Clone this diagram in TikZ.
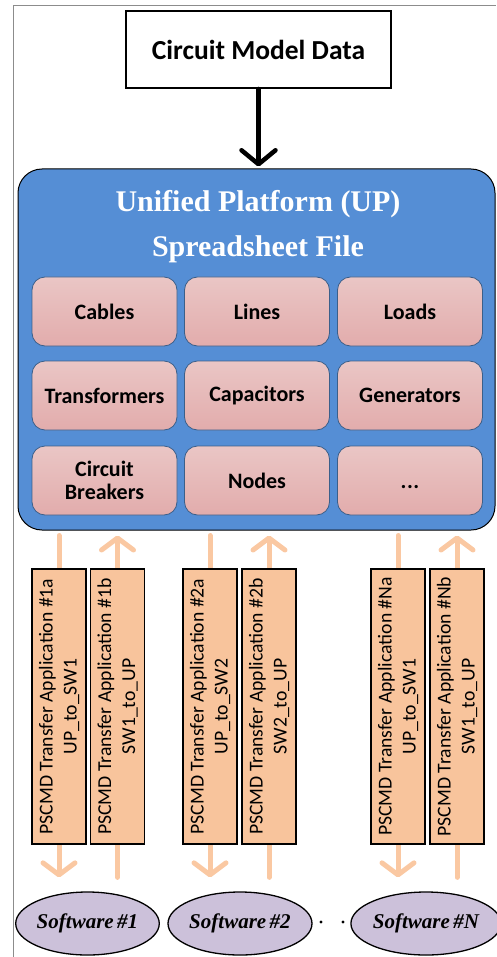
\documentclass[tikz,border=0pt]{standalone}
\usepackage{fontspec}
\setmainfont{Carlito}
\newfontfamily\timesf{Liberation Serif}
\usetikzlibrary{arrows.meta,backgrounds,shapes.geometric}
\definecolor{upblue}{HTML}{558ED5}
\definecolor{pinktop}{HTML}{EAC6C5}
\definecolor{pinkbot}{HTML}{E2ACAC}
\definecolor{cellborder}{HTML}{3B5F8A}
\definecolor{appfill}{HTML}{F8C49C}
\definecolor{arrorange}{HTML}{FAC8A2}
\definecolor{swfill}{HTML}{CCC1DA}
\definecolor{framegray}{HTML}{8C8C8C}
\begin{document}
\begin{tikzpicture}[x=1pt,y=-1pt,
  cell/.style={draw=cellborder, line width=0.8pt, rounded corners=13pt,
    top color=pinktop, bottom color=pinkbot, minimum width=145pt,
    minimum height=69pt, font=\fontsize{22}{23}\selectfont\bfseries,
    align=center, inner sep=0pt},
  app/.style={draw=black, line width=1.6pt, fill=appfill,
    minimum width=275pt, minimum height=54pt, rotate=90,
    font=\fontsize{19.7}{24}\selectfont, align=center, inner sep=0pt},
  sw/.style={ellipse, draw=black, line width=1.3pt, fill=swfill,
    minimum height=63pt, inner sep=0pt,
    font=\timesf\fontsize{21}{24}\selectfont\bfseries\itshape},
  toflow/.style={draw=arrorange, line width=5pt, line cap=round,
    -{Straight Barb[length=12pt,width=32pt,round]},
    shorten <=5pt, shorten >=14pt},
  fromflow/.style={draw=arrorange, line width=5pt, line cap=round,
    {Straight Barb[length=12pt,width=32pt,round]}-,
    shorten <=5pt, shorten >=14pt},
  titletext/.style={text=white, font=\timesf\fontsize{30}{34}\selectfont\bfseries, anchor=base}
]
\useasboundingbox (0,0) rectangle (496,957);
\draw[framegray, line width=1pt] (13,957) -- (13,6) -- (496,6);

% top data box
\node[draw=black, line width=2pt, fill=white, minimum width=265pt,
  minimum height=77pt, font=\fontsize{27.5}{30}\selectfont\bfseries]
  (cmd) at (258.5,49.5) {Circuit Model Data};

% unified platform
\node[draw=black, line width=1pt, fill=upblue, rounded corners=24pt,
  minimum width=477pt, minimum height=361pt] (up) at (256.5,349.5) {};
\draw[black, line width=4.5pt, line cap=round,
  -{Straight Barb[length=14pt,width=34pt,round]}, shorten >=2pt]
  (cmd.south) -- (cmd.south |- up.north);
\node[titletext] (t1) at (258,212) {Unified Platform (UP)};
\node[titletext] (t2) at (258,257) {Spreadsheet File};

\node[cell] (c11) at (104.5,311.5) {Cables};
\node[cell] (c12) at (257,311.5) {Lines};
\node[cell] (c13) at (410,311.5) {Loads};
\node[cell] (c21) at (104.5,395.5) {Transformers};
\node[cell] (c22) at (257,395.5) {Capacitors};
\node[cell] (c23) at (410,395.5) {Generators};
\node[cell] (c31) at (104.5,480.5) {Circuit\\Breakers};
\node[cell] (c32) at (257,480.5) {Nodes};
\node[cell] (c33) at (410,480.5) {\vphantom{Nodes}{.}\kern0.5pt{.}\kern0.5pt{.}};

% software
\node[sw, minimum width=141pt] (sw1) at (87.5,923.5) {Software\,\#1};
\node[sw, minimum width=144pt] (sw2) at (240,923.5) {Software\,\#2};
\node[sw, minimum width=138pt] (swn) at (426,923.5) {Software\,\#N};
\fill (321,922) circle (1.7pt);
\fill (343,922) circle (1.7pt);

% transfer applications
\node[app] (a1a) at (59,706.5) {PSCMD Transfer Application \#1a\\UP\_to\_SW1};
\node[app] (a1b) at (117.5,706.5) {PSCMD Transfer Application \#1b\\SW1\_to\_UP};
\node[app] (a2a) at (210,706.5) {PSCMD Transfer Application \#2a\\UP\_to\_SW2};
\node[app] (a2b) at (269,706.5) {PSCMD Transfer Application \#2b\\SW2\_to\_UP};
\node[app] (ana) at (398,706.5) {PSCMD Transfer Application \#Na\\UP\_to\_SW1};
\node[app] (anb) at (457,706.5) {PSCMD Transfer Application \#Nb\\SW1\_to\_UP};

\begin{scope}[on background layer]
  \draw[toflow] (a1a.center |- up.south) -- (a1a.center |- sw1.north);
  \draw[fromflow] (a1b.center |- up.south) -- (a1b.center |- sw1.north);
  \draw[toflow] (a2a.center |- up.south) -- (a2a.center |- sw2.north);
  \draw[fromflow] (a2b.center |- up.south) -- (a2b.center |- sw2.north);
  \draw[toflow] (ana.center |- up.south) -- (ana.center |- swn.north);
  \draw[fromflow] (anb.center |- up.south) -- (anb.center |- swn.north);
\end{scope}
\end{tikzpicture}
\end{document}
